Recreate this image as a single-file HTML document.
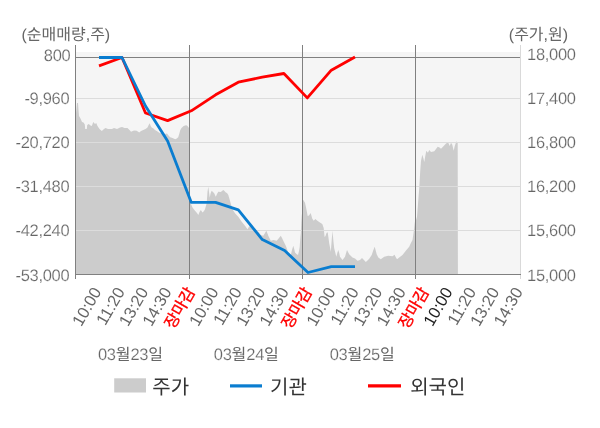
<!DOCTYPE html>
<html lang="ko"><head><meta charset="utf-8"><title>순매매량 / 주가 차트</title>
<style>
html,body{margin:0;padding:0;background:#fff;}
body{width:600px;height:428px;overflow:hidden;font-family:"Liberation Sans",sans-serif;}
svg{display:block;will-change:transform;}
text{stroke:#fff;stroke-width:.2px;font-size:16.5px;letter-spacing:-.3px;text-rendering:geometricPrecision;}
text.r{stroke:none;letter-spacing:0;}
text.k{stroke:none;letter-spacing:0;font-size:16px;font-family:"Liberation Sans","Noto Sans CJK KR",sans-serif;}
text.kr{stroke:#ff0000;stroke-width:.35px;letter-spacing:0;font-size:16px;font-family:"Liberation Sans","Noto Sans CJK KR",sans-serif;}
text.kl{stroke:none;letter-spacing:0;font-size:20px;font-family:"Liberation Sans","Noto Sans CJK KR",sans-serif;}
</style></head><body>
<svg width="600" height="428" viewBox="0 0 600 428" font-family="'Liberation Sans', sans-serif" font-size="16">
<rect x="0" y="0" width="600" height="428" fill="#fff"/>
<rect x="76" y="52" width="444" height="222.5" fill="#f5f5f5"/>
<path d="M76,274.5 L76.0,113.0 77.0,103.0 78.0,103.0 78.5,110.0 79.0,116.0 80.5,118.5 82.0,122.0 83.5,122.5 84.8,124.5 85.2,129.0 86.8,129.0 87.2,125.0 88.8,124.0 90.5,125.5 91.8,126.0 93.3,122.0 95.0,124.0 96.2,123.0 97.5,126.0 99.5,129.0 101.8,131.0 104.0,129.0 105.5,128.0 108.0,129.0 112.0,129.0 114.0,128.0 117.0,129.0 120.0,127.5 122.0,127.0 124.5,128.0 127.5,128.0 130.0,130.5 131.0,131.7 134.0,130.5 136.7,130.8 139.2,132.5 141.0,131.0 143.3,130.0 145.5,129.0 147.5,127.5 148.7,125.0 149.7,123.3 150.7,126.0 151.7,127.5 153.5,128.5 155.0,130.0 157.5,131.5 160.0,133.3 162.0,132.8 165.0,134.0 167.0,133.5 168.5,135.5 170.2,137.2 172.5,138.0 175.2,139.2 176.8,138.5 178.2,137.2 179.2,134.0 180.2,130.2 181.5,128.0 183.3,126.2 185.0,125.5 186.3,125.2 187.5,126.0 188.3,127.2 189.5,128.0 189.5,203.0 191.0,204.0 192.5,207.5 195.0,210.8 197.0,213.0 198.3,215.0 199.5,212.0 200.8,210.0 202.5,212.5 204.0,211.0 205.0,209.2 206.7,203.3 207.5,191.7 208.3,186.7 209.0,192.0 209.7,197.5 210.7,193.0 211.7,190.8 213.0,192.0 214.2,193.3 215.8,196.7 217.0,194.0 218.3,191.7 220.8,192.0 222.0,191.0 223.3,190.0 224.5,191.0 225.8,192.5 227.0,193.0 228.3,195.0 230.0,200.8 231.2,205.0 232.5,209.2 235.0,213.3 238.3,216.7 241.7,221.7 245.0,225.8 247.5,229.2 248.8,227.0 250.0,225.8 253.3,228.3 256.0,231.5 258.3,231.7 260.8,235.0 263.3,235.8 265.0,233.0 266.3,230.8 267.3,233.0 268.3,235.8 270.8,240.8 273.5,240.0 276.7,240.8 279.0,238.0 280.8,235.8 282.0,238.0 283.3,240.8 285.8,245.8 288.3,252.5 290.8,255.0 292.0,250.0 293.3,245.8 294.2,249.0 295.0,252.5 296.5,254.0 298.0,255.0 299.0,251.0 299.7,246.7 300.3,238.0 300.8,233.3 301.3,222.0 301.8,214.7 302.5,212.0 302.5,200.0 303.3,200.0 305.0,202.7 306.3,208.7 307.7,216.0 309.0,215.5 310.7,213.0 312.3,218.7 313.7,220.7 315.3,219.0 317.7,221.0 320.3,222.7 322.3,224.0 323.7,228.0 324.6,237.0 325.5,236.0 326.5,233.0 327.7,232.3 328.5,238.0 329.2,243.3 330.8,251.7 331.7,240.0 332.5,230.8 333.3,240.0 334.2,248.3 336.3,256.7 337.3,253.0 338.3,250.0 339.2,253.0 340.0,256.7 342.5,260.0 345.0,256.7 347.0,250.0 348.0,252.0 349.2,254.2 352.5,257.5 355.0,258.5 357.5,260.8 360.0,260.0 362.0,258.0 364.2,260.3 365.8,262.0 367.5,260.5 369.2,258.7 371.7,255.0 373.2,250.5 374.7,246.7 375.7,250.5 376.7,254.2 378.3,257.5 380.8,259.2 384.2,256.7 388.3,255.8 392.5,256.3 394.5,254.7 395.7,257.0 397.0,259.2 399.2,257.5 402.5,255.0 405.8,250.8 409.2,246.7 410.8,243.3 412.5,240.0 413.7,231.7 414.7,223.3 415.5,218.0 415.5,222.0 417.0,216.7 419.3,187.3 420.3,170.0 421.0,160.7 422.3,154.7 423.3,158.0 424.3,162.0 425.3,156.0 426.3,150.7 427.9,152.7 429.3,150.0 431.0,152.0 434.3,151.3 436.0,149.0 437.7,146.7 439.5,147.5 441.0,148.7 443.7,146.0 446.3,143.3 448.3,142.7 449.7,146.0 451.0,142.7 452.3,144.7 453.7,150.7 454.5,147.0 455.4,144.0 456.7,141.3 457.7,142.7 457.9,274.5 Z" fill="#ccc"/>
<line x1="76" x2="520" y1="98.50" y2="98.50" stroke="#dcdcdc" stroke-width="1"/>
<line x1="76" x2="520" y1="142.50" y2="142.50" stroke="#dcdcdc" stroke-width="1"/>
<line x1="76" x2="520" y1="186.50" y2="186.50" stroke="#dcdcdc" stroke-width="1"/>
<line x1="76" x2="520" y1="230.50" y2="230.50" stroke="#dcdcdc" stroke-width="1"/>
<line x1="76" x2="520" y1="57.5" y2="57.5" stroke="#808080" stroke-width="1"/>
<line x1="75.5" x2="75.5" y1="45" y2="279" stroke="#808080" stroke-width="1"/>
<line x1="189.5" x2="189.5" y1="45" y2="279" stroke="#808080" stroke-width="1"/>
<line x1="302.5" x2="302.5" y1="45" y2="279" stroke="#808080" stroke-width="1"/>
<line x1="415.5" x2="415.5" y1="45" y2="279" stroke="#808080" stroke-width="1"/>
<line x1="520.5" x2="520.5" y1="45" y2="279" stroke="#d9d9d9" stroke-width="1"/>
<line x1="75" x2="521" y1="274.5" y2="274.5" stroke="#808080" stroke-width="1"/>
<polyline points="99.0,65.9 122.0,57.5 145.5,113.0 167.6,120.6 191.3,110.8 215.6,94.8 238.3,82.2 262.3,77.2 283.9,73.5 307.3,97.9 331.3,70.2 355.0,57.1" fill="none" stroke="#ff0000" stroke-width="2.8" stroke-linejoin="round"/>
<polyline points="99.0,57.5 122.0,57.5 145.5,106.0 167.6,141.0 191.3,202.4 215.6,202.4 238.3,209.9 262.3,239.6 284.6,250.6 308.0,272.5 331.3,266.6 355.0,266.6" fill="none" stroke="#0a7dd0" stroke-width="2.8" stroke-linejoin="round"/>
<text x="70.4" y="61.3" text-anchor="end" fill="#666">800</text>
<text x="527" y="60.3" fill="#666">18,000</text>
<text x="69.4" y="104.3" text-anchor="end" fill="#666">-9,960</text>
<text x="527" y="104.3" fill="#666">17,400</text>
<text x="69.4" y="148.3" text-anchor="end" fill="#666">-20,720</text>
<text x="527" y="148.3" fill="#666">16,800</text>
<text x="69.4" y="192.3" text-anchor="end" fill="#666">-31,480</text>
<text x="527" y="192.3" fill="#666">16,200</text>
<text x="69.4" y="236.3" text-anchor="end" fill="#666">-42,240</text>
<text x="527" y="236.3" fill="#666">15,600</text>
<text x="69.4" y="281.3" text-anchor="end" fill="#666">-53,000</text>
<text x="527" y="281.3" fill="#666">15,000</text>
<text class="k" x="21.5" y="40" fill="#666">(순매매량,주)</text>
<text class="k" x="508.8" y="40" fill="#666">(주가,원)</text>
<text class="r" transform="translate(101.95,291.60) rotate(-60)" text-anchor="end" fill="#666">10:00</text>
<text class="r" transform="translate(125.36,291.60) rotate(-60)" text-anchor="end" fill="#666">11:20</text>
<text class="r" transform="translate(148.77,291.60) rotate(-60)" text-anchor="end" fill="#666">13:20</text>
<text class="r" transform="translate(172.18,291.60) rotate(-60)" text-anchor="end" fill="#666">14:30</text>
<text class="kr" transform="translate(195.59,291.60) rotate(-60)" text-anchor="end" fill="#ff0000">장마감</text>
<text class="r" transform="translate(219.00,291.60) rotate(-60)" text-anchor="end" fill="#666">10:00</text>
<text class="r" transform="translate(242.41,291.60) rotate(-60)" text-anchor="end" fill="#666">11:20</text>
<text class="r" transform="translate(265.82,291.60) rotate(-60)" text-anchor="end" fill="#666">13:20</text>
<text class="r" transform="translate(289.23,291.60) rotate(-60)" text-anchor="end" fill="#666">14:30</text>
<text class="kr" transform="translate(312.64,291.60) rotate(-60)" text-anchor="end" fill="#ff0000">장마감</text>
<text class="r" transform="translate(336.05,291.60) rotate(-60)" text-anchor="end" fill="#666">10:00</text>
<text class="r" transform="translate(359.46,291.60) rotate(-60)" text-anchor="end" fill="#666">11:20</text>
<text class="r" transform="translate(382.87,291.60) rotate(-60)" text-anchor="end" fill="#666">13:20</text>
<text class="r" transform="translate(406.28,291.60) rotate(-60)" text-anchor="end" fill="#666">14:30</text>
<text class="kr" transform="translate(429.69,291.60) rotate(-60)" text-anchor="end" fill="#ff0000">장마감</text>
<text class="r" transform="translate(453.10,291.60) rotate(-60)" text-anchor="end" fill="#222">10:00</text>
<text class="r" transform="translate(476.51,291.60) rotate(-60)" text-anchor="end" fill="#666">11:20</text>
<text class="r" transform="translate(499.92,291.60) rotate(-60)" text-anchor="end" fill="#666">13:20</text>
<text class="r" transform="translate(523.33,291.60) rotate(-60)" text-anchor="end" fill="#666">14:30</text>
<text x="97.9" y="359.8" fill="#666">03</text>
<text class="k" x="115.66" y="359.8" fill="#666">월</text>
<text x="130.4" y="359.8" fill="#666">23</text>
<text class="k" x="148.14" y="359.8" fill="#666">일</text>
<text x="213.8" y="359.8" fill="#666">03</text>
<text class="k" x="231.56" y="359.8" fill="#666">월</text>
<text x="246.3" y="359.8" fill="#666">24</text>
<text class="k" x="264.04" y="359.8" fill="#666">일</text>
<text x="329.7" y="359.8" fill="#666">03</text>
<text class="k" x="347.46" y="359.8" fill="#666">월</text>
<text x="362.2" y="359.8" fill="#666">25</text>
<text class="k" x="379.94" y="359.8" fill="#666">일</text>
<rect x="114.2" y="378.3" width="31.8" height="14.2" fill="#ccc"/>
<text class="kl" x="152.3" y="394.3" fill="#333">주가</text>
<line x1="230" x2="262" y1="385.9" y2="385.9" stroke="#0a7dd0" stroke-width="3.2"/>
<text class="kl" x="270.1" y="394.3" fill="#333">기관</text>
<line x1="368" x2="401" y1="385.8" y2="385.8" stroke="#ff0000" stroke-width="3.2"/>
<text class="kl" x="410.2" y="394.3" fill="#333">외국인</text>
</svg>
</body></html>
